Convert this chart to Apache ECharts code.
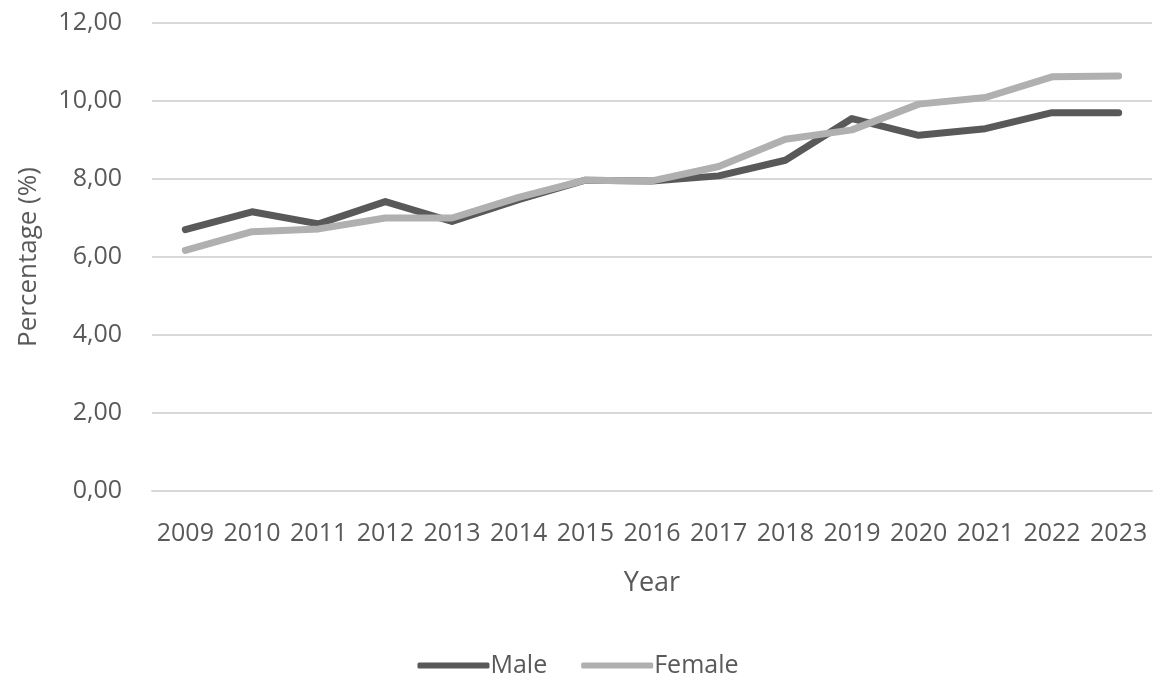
<!DOCTYPE html>
<html>
<head>
<meta charset="utf-8">
<script src="https://cdn.jsdelivr.net/npm/echarts@6/dist/echarts.min.js"></script>
<style>
  html, body { margin: 0; padding: 0; background: #fff; }
  #main { width: 1156px; height: 683px; }
</style>
</head>
<body>
<div id="main"></div>
<script>
var years = ['2009', '2010', '2011', '2012', '2013', '2014', '2015', '2016',
  '2017', '2018', '2019', '2020', '2021', '2022', '2023'];
var male = [6.70, 7.16, 6.85, 7.42, 6.91, 7.47, 7.97, 7.95, 8.08, 8.48, 9.55, 9.12, 9.29, 9.70, 9.70];
var female = [6.17, 6.65, 6.72, 7.00, 7.00, 7.53, 7.97, 7.95, 8.32, 9.02, 9.26, 9.92, 10.09, 10.62, 10.64];

var textColor = '#595959';
var font = 'Open Sans';

var myChart = echarts.init(document.getElementById('main'));

var option = {
  animation: false,
  textStyle: { fontFamily: font, color: textColor },
  grid: { left: 152, right: 4, top: 23, bottom: 192, containLabel: false },
  legend: {
    bottom: 0,
    left: 'center',
    icon: 'roundRect',
    itemWidth: 72,
    itemHeight: 6,
    itemGap: 34,
    textStyle: { fontFamily: font, fontSize: 25, color: textColor, padding: [0, 0, 0, -4] },
    data: ['Male', 'Female']
  },
  xAxis: {
    type: 'category',
    data: years,
    name: 'Year',
    nameLocation: 'middle',
    nameGap: 79,
    nameTextStyle: { fontFamily: font, fontSize: 27, color: textColor },
    axisLine: { lineStyle: { color: '#d9d9d9', width: 2 } },
    axisTick: { show: false },
    axisLabel: { fontFamily: font, fontSize: 25, color: textColor, margin: 30, interval: 0 }
  },
  yAxis: {
    type: 'value',
    min: 0,
    max: 12,
    interval: 2,
    name: 'Percentage (%)',
    nameLocation: 'middle',
    nameGap: 110,
    nameTextStyle: { fontFamily: font, fontSize: 26, color: textColor },
    axisLabel: {
      fontFamily: font, fontSize: 25, color: textColor, margin: 30,
      formatter: function (v) { return v.toFixed(2).replace('.', ','); }
    },
    splitLine: { lineStyle: { color: '#d9d9d9', width: 2 } }
  },
  series: [
    {
      name: 'Male',
      type: 'line',
      data: male,
      symbol: 'none',
      lineStyle: { color: '#595959', width: 7, cap: 'round', join: 'round' },
      itemStyle: { color: '#595959' }
    },
    {
      name: 'Female',
      type: 'line',
      data: female,
      symbol: 'none',
      lineStyle: { color: '#b0b0b0', width: 7, cap: 'round', join: 'round' },
      itemStyle: { color: '#b0b0b0' }
    }
  ]
};

option && myChart.setOption(option);
</script>
</body>
</html>
